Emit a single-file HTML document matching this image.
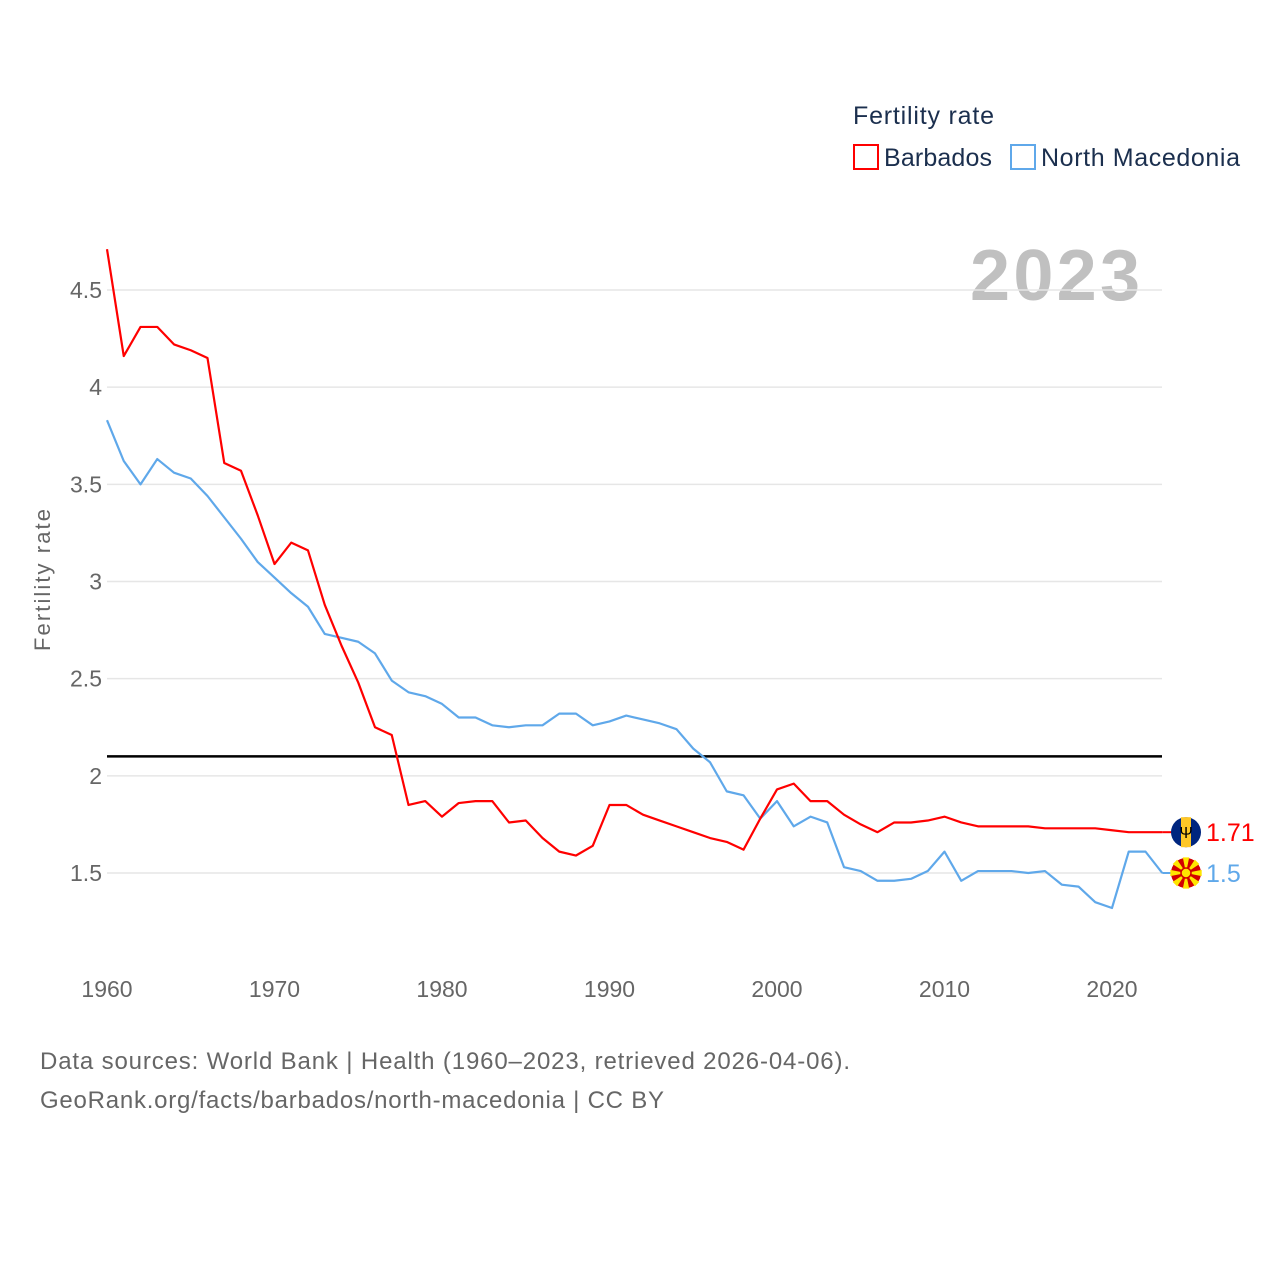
<!DOCTYPE html>
<html><head><meta charset="utf-8"><style>
body{margin:0;background:#fff;font-family:"Liberation Sans",sans-serif}
svg text{font-family:"Liberation Sans",sans-serif}
</style></head><body>
<svg id="chart" width="1280" height="1280" viewBox="0 0 1280 1280">
<text x="853" y="124" font-size="25" fill="#1b2f4e" textLength="141">Fertility rate</text>
<g><rect x="854" y="145" width="24" height="24" fill="none" stroke="#f00" stroke-width="2"/><text x="884" y="166" font-size="25" fill="#1b2f4e" textLength="108">Barbados</text></g>
<g><rect x="1011" y="145" width="24" height="24" fill="none" stroke="#5fa8ea" stroke-width="2"/><text x="1041" y="166" font-size="25" fill="#1b2f4e" textLength="199">North Macedonia</text></g>
<text x="970" y="300" font-size="72" font-weight="bold" fill="#c0c0c0" textLength="170">2023</text>
<text transform="translate(50,580) rotate(-90)" font-size="22" fill="#666" text-anchor="middle" textLength="142">Fertility rate</text>
<g id="grid"></g><g id="series"></g>
<text x="40" y="1069" font-size="24" fill="#666" textLength="810">Data sources: World Bank | Health (1960–2023, retrieved 2026-04-06).</text>
<text x="40" y="1108" font-size="24" fill="#666" textLength="624">GeoRank.org/facts/barbados/north-macedonia | CC BY</text>
</svg>
<script>
const years=[];for(let y=1960;y<=2023;y++)years.push(y);
const barbados=[4.71,4.16,4.31,4.31,4.22,4.19,4.15,3.61,3.57,3.34,3.09,3.20,3.16,2.88,2.67,2.48,2.25,2.21,1.85,1.87,1.79,1.86,1.87,1.87,1.76,1.77,1.68,1.61,1.59,1.64,1.85,1.85,1.80,1.77,1.74,1.71,1.68,1.66,1.62,1.78,1.93,1.96,1.87,1.87,1.80,1.75,1.71,1.76,1.76,1.77,1.79,1.76,1.74,1.74,1.74,1.74,1.73,1.73,1.73,1.73,1.72,1.71,1.71,1.71];
const macedonia=[3.83,3.62,3.50,3.63,3.56,3.53,3.44,3.33,3.22,3.10,3.02,2.94,2.87,2.73,2.71,2.69,2.63,2.49,2.43,2.41,2.37,2.30,2.30,2.26,2.25,2.26,2.26,2.32,2.32,2.26,2.28,2.31,2.29,2.27,2.24,2.14,2.07,1.92,1.90,1.78,1.87,1.74,1.79,1.76,1.53,1.51,1.46,1.46,1.47,1.51,1.61,1.46,1.51,1.51,1.51,1.50,1.51,1.44,1.43,1.35,1.32,1.61,1.61,1.50];
const yTicks=[1.5,2,2.5,3,3.5,4,4.5];
const yTickLabels=["1.5","2","2.5","3","3.5","4","4.5"];
const xTicks=[1960,1970,1980,1990,2000,2010,2020];
const refValue=2.1;
const NS="http://www.w3.org/2000/svg";
const X=y=>107+(y-1960)*(1112-107)/60;
const Y=v=>873-(v-1.5)*(873-290)/3;
function mk(t,a,p){const e=document.createElementNS(NS,t);for(const k in a)e.setAttribute(k,a[k]);p.appendChild(e);return e;}
const g=document.getElementById('grid'),s=document.getElementById('series');
yTicks.forEach((v,i)=>{
 const l=mk('line',{x1:107,x2:1162,y1:Y(v),y2:Y(v),stroke:'#e6e6e6','stroke-width':1.5},g);
 
 
 const t=mk('text',{x:102,y:Y(v)+8,'font-size':23,fill:'#666','text-anchor':'end'},g);t.textContent=yTickLabels[i];
 
 
});
xTicks.forEach(v=>{
 const t=mk('text',{x:X(v),y:997,'font-size':23,fill:'#666','text-anchor':'middle'},g);t.textContent=v;
 
 
});
const ref=mk('line',{x1:107,x2:1162,y1:Y(refValue),y2:Y(refValue),stroke:'#000','stroke-width':2.5},s);


function line(d,c,name){
 const p=mk('polyline',{points:d.map((v,i)=>X(years[i])+','+Y(v)).join(' '),fill:'none',stroke:c,'stroke-width':2.2,'stroke-linejoin':'round'},s);
 
 
}
line(macedonia,'#5fa8ea','line-north-macedonia');
line(barbados,'#ff0000','line-barbados');
function end(d,c,name,flag){
 const v=d[d.length-1],y=Y(v),x=X(years[years.length-1]);
 mk('line',{x1:x,x2:1172,y1:y,y2:y,stroke:c,'stroke-width':2},s);
 const grp=mk('g',{},s);
 
 
 flag(grp,1186,y);
 const t=mk('text',{x:1206,y:y+9,'font-size':25,fill:c},s);t.textContent=String(v);
 
 
}
end(barbados,'#ff0000','barbados',(p,cx,cy)=>{
 mk('circle',{cx,cy,r:15,fill:'#00267f'},p);
 mk('rect',{x:cx-5,y:cy-15,width:10,height:30,fill:'#ffc726'},p);
 const t=mk('text',{x:cx,y:cy+6,'font-size':16,'text-anchor':'middle',fill:'#000'},p);t.textContent='Ψ';
});
end(macedonia,'#5fa8ea','north-macedonia',(p,cx,cy)=>{
 mk('circle',{cx,cy,r:15,fill:'#d20000'},p);
 for(let i=0;i<8;i++){const a=i*Math.PI/4;
  mk('polygon',{points:`${cx},${cy} ${cx+16*Math.cos(a-0.2)},${cy+16*Math.sin(a-0.2)} ${cx+16*Math.cos(a+0.2)},${cy+16*Math.sin(a+0.2)}`,fill:'#ffe600'},p);}
 mk('circle',{cx,cy,r:5,fill:'#ffe600',stroke:'#d20000','stroke-width':1.5},p);
});
</script>
</body></html>
